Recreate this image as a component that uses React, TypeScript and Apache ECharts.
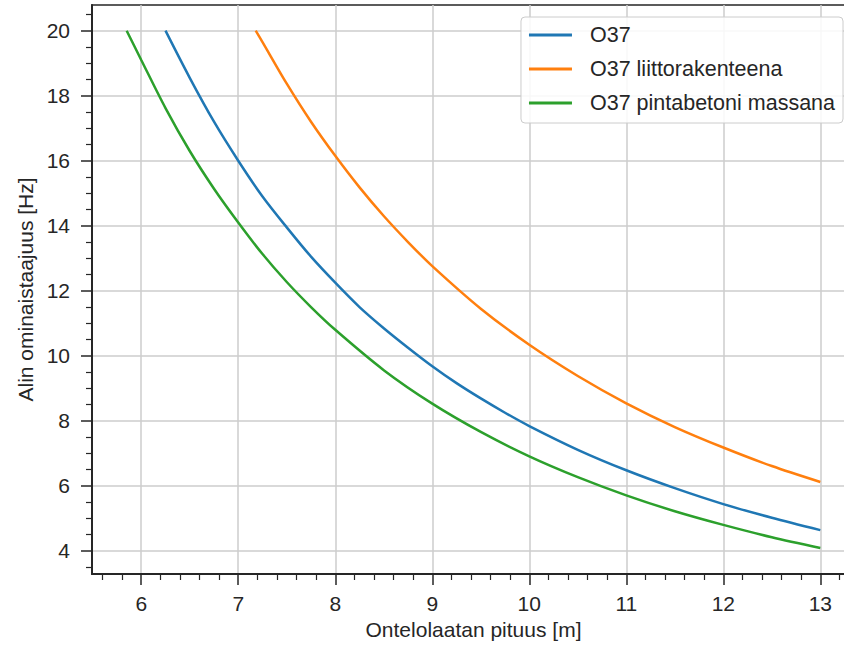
import React, { useEffect, useRef } from "react";
import * as echarts from "echarts";

// Series values (length [m] -> lowest natural frequency [Hz])
const blueX = [6.25, 6.5, 6.75, 7, 7.25, 7.5, 7.75, 8, 8.25, 8.5, 8.75, 9, 9.25, 9.5, 9.75, 10, 10.5, 11, 11.5, 12, 12.5, 13];
const blueY = [20.0, 18.55, 17.2, 16.0, 14.9, 13.95, 13.05, 12.25, 11.5, 10.85, 10.25, 9.68, 9.16, 8.69, 8.25, 7.84, 7.11, 6.48, 5.93, 5.44, 5.02, 4.64];

const orangeX = [7.18, 7.25, 7.5, 7.75, 8, 8.25, 8.5, 8.75, 9, 9.5, 10, 10.5, 11, 11.5, 12, 12.5, 13];
const orangeY = [20.0, 19.65, 18.37, 17.2, 16.15, 15.18, 14.3, 13.5, 12.76, 11.45, 10.34, 9.38, 8.54, 7.81, 7.18, 6.61, 6.12];

const greenX = [5.85, 6, 6.25, 6.5, 6.75, 7, 7.25, 7.5, 7.75, 8, 8.5, 9, 9.5, 10, 10.5, 11, 11.5, 12, 12.5, 13];
const greenY = [20.0, 19.1, 17.62, 16.3, 15.14, 14.1, 13.13, 12.27, 11.5, 10.8, 9.56, 8.53, 7.66, 6.91, 6.27, 5.71, 5.22, 4.8, 4.42, 4.09];

const seriesNames = ["O37", "O37 liittorakenteena", "O37 pintabetoni massana"];
const seriesColors = ["#1f77b4", "#ff7f0e", "#2ca02c"];

const xTickLabels = [6, 7, 8, 9, 10, 11, 12, 13];
const yTickLabels = [4, 6, 8, 10, 12, 14, 16, 18, 20];

const xName = "Ontelolaatan pituus [m]";
const yName = "Alin ominaistaajuus [Hz]";

const X_MIN = 5.4925;
const X_MAX = 13.3575;
const Y_MIN = 3.29;
const Y_MAX = 20.79;

function minorTicks(min: number, max: number, step: number, majorStep: number): number[] {
  const out: number[] = [];
  const start = Math.ceil(min / step);
  const end = Math.floor(max / step);
  for (let i = start; i <= end; i++) {
    const v = Math.round(i * step * 1000) / 1000;
    const r = v / majorStep;
    if (Math.abs(r - Math.round(r)) > 1e-6) out.push(v);
  }
  return out;
}

const FONT = "'Liberation Sans', Arial, sans-serif";
const TEXT = "#262626";
const SPINE = "#262626";
const GRIDC = "#cccccc";

export default function App() {
  const ref = useRef<HTMLDivElement>(null);
  useEffect(() => {
    if (!ref.current) return;
    const chart = echarts.init(ref.current, null, { renderer: "svg" });
    const grid = { left: 92, top: 5, width: 763, height: 569, outerBoundsMode: "none", containLabel: false };
    const xs = [blueX, orangeX, greenX];
    const ys = [blueY, orangeY, greenY];
    chart.setOption({
      animation: false,
      textStyle: { fontFamily: FONT },
      grid: [
        { ...grid, show: true, borderColor: SPINE, borderWidth: 1.5, backgroundColor: "#fff" },
        { ...grid, show: false },
      ],
      legend: {
        orient: "vertical",
        right: 1,
        top: 17,
        padding: [7, 8, 9, 8],
        icon: "rect",
        itemWidth: 43,
        itemHeight: 3,
        itemGap: 12,
        backgroundColor: "rgba(255,255,255,0.85)",
        borderColor: "#cccccc",
        borderWidth: 1,
        borderRadius: 4,
        textStyle: { fontSize: 21.5, color: TEXT, fontFamily: FONT, padding: [0, 0, 0, 13] },
        data: seriesNames,
      },
      xAxis: [
        {
          type: "value",
          gridIndex: 0,
          min: X_MIN,
          max: X_MAX,
          splitNumber: 8,
          name: xName,
          nameLocation: "middle",
          nameGap: 45,
          nameTextStyle: { fontSize: 21, color: TEXT, fontFamily: FONT },
          axisLine: { show: true, onZero: false, lineStyle: { color: SPINE, width: 2 } },
          axisTick: { show: true, length: 11, customValues: xTickLabels, lineStyle: { color: SPINE, width: 1.5 } },
          axisLabel: {
            customValues: xTickLabels,
            fontSize: 21,
            color: TEXT,
            fontFamily: FONT,
            margin: 19,
          },
          splitLine: { show: true, lineStyle: { color: GRIDC, width: 1.5 } },
        },
        {
          type: "value",
          gridIndex: 1,
          min: X_MIN,
          max: X_MAX,
          axisLine: { show: false },
          axisTick: { show: true, length: 6, customValues: minorTicks(X_MIN, X_MAX, 0.2, 1), lineStyle: { color: SPINE, width: 1.2 } },
          axisLabel: { show: false },
          splitLine: { show: false },
        },
      ],
      yAxis: [
        {
          type: "value",
          gridIndex: 0,
          min: Y_MIN,
          max: Y_MAX,
          splitNumber: 8,
          name: yName,
          nameLocation: "middle",
          nameGap: 56,
          nameTextStyle: { fontSize: 21, color: TEXT, fontFamily: FONT },
          axisLine: { show: true, onZero: false, lineStyle: { color: SPINE, width: 2 } },
          axisTick: { show: true, length: 11, customValues: yTickLabels, lineStyle: { color: SPINE, width: 1.5 } },
          axisLabel: {
            customValues: yTickLabels,
            fontSize: 21,
            color: TEXT,
            fontFamily: FONT,
            margin: 22,
          },
          splitLine: { show: true, lineStyle: { color: GRIDC, width: 1.5 } },
        },
        {
          type: "value",
          gridIndex: 1,
          min: Y_MIN,
          max: Y_MAX,
          axisLine: { show: false },
          axisTick: { show: true, length: 6, customValues: minorTicks(Y_MIN, Y_MAX, 0.5, 2), lineStyle: { color: SPINE, width: 1.2 } },
          axisLabel: { show: false },
          splitLine: { show: false },
        },
      ],
      series: seriesNames.map((name, i) => ({
        name,
        type: "line",
        xAxisIndex: 0,
        yAxisIndex: 0,
        symbol: "none",
        smooth: 0.3,
        color: seriesColors[i],
        itemStyle: { color: seriesColors[i] },
        lineStyle: { color: seriesColors[i], width: 2.5 },
        data: xs[i].map((x, j) => [x, ys[i][j]]),
      })),
    });
    return () => chart.dispose();
  }, []);
  return (
    <div
      ref={ref}
      style={{ position: "fixed", left: 0, top: 0, width: 844, height: 648, background: "#fff" }}
    />
  );
}
